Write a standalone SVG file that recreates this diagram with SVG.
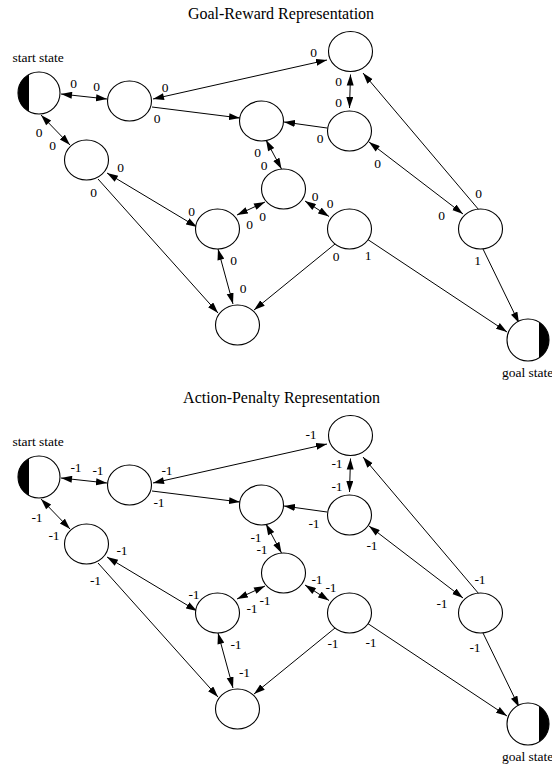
<svg xmlns="http://www.w3.org/2000/svg" width="552" height="767" viewBox="0 0 552 767">
  <style>
    .title { font-family: "Liberation Serif", "Times New Roman", serif; font-size: 16px; fill: #000; text-anchor: middle; }
    .cap { font-family: "Liberation Serif", "Times New Roman", serif; font-size: 13.5px; fill: #000; }
    .lbl { font-family: "Liberation Serif", "Times New Roman", serif; font-size: 13.5px; fill: #000; text-anchor: middle; }
    .st { fill: #fff; stroke: #000; stroke-width: 1.1; }
    .half { fill: #000; stroke: none; }
    .e { stroke: #000; stroke-width: 1; fill: none; }
    .one { marker-end: url(#ah); }
    .two { marker-start: url(#ahs); marker-end: url(#ah); }
  </style>
  <defs>
    <marker id="ah" markerUnits="userSpaceOnUse" markerWidth="12" markerHeight="8" refX="11" refY="3.5" orient="auto">
      <path d="M0,0 L11,3.5 L0,7 Z" fill="#000"/>
    </marker>
    <marker id="ahs" markerUnits="userSpaceOnUse" markerWidth="12" markerHeight="8" refX="0" refY="3.5" orient="auto">
      <path d="M11,0 L0,3.5 L11,7 Z" fill="#000"/>
    </marker>
  </defs>

  <!-- Upper graph: goal-reward values -->
  <g id="goal-reward">
    <text class="title" x="281" y="19">Goal-Reward Representation</text>
    <text class="cap" x="12.5" y="62">start state</text>
    <text class="cap" x="502" y="377">goal state</text>

    <g id="gr-edges">
      <line class="e two" x1="61" y1="94" x2="107" y2="99"/>
      <line class="e two" x1="41" y1="115" x2="70" y2="145"/>
      <line class="e two" x1="153" y1="99" x2="327" y2="60"/>
      <line class="e one" x1="152" y1="107" x2="240" y2="118"/>
      <line class="e one" x1="327" y1="128" x2="284" y2="122"/>
      <line class="e two" x1="350.5" y1="74.5" x2="349.5" y2="108"/>
      <line class="e one" x1="479" y1="210" x2="363" y2="73"/>
      <line class="e two" x1="369" y1="142" x2="463" y2="214"/>
      <line class="e two" x1="266" y1="140" x2="281.5" y2="169"/>
      <line class="e two" x1="265" y1="202" x2="237" y2="215"/>
      <line class="e two" x1="305" y1="201" x2="329" y2="216.5"/>
      <line class="e two" x1="107" y1="173" x2="197" y2="227"/>
      <line class="e one" x1="98" y1="179" x2="218" y2="313"/>
      <line class="e two" x1="218" y1="249" x2="233" y2="304"/>
      <line class="e one" x1="335" y1="244" x2="254" y2="310"/>
      <line class="e one" x1="367" y1="239" x2="507" y2="332"/>
      <line class="e one" x1="483" y1="249" x2="519" y2="323"/>
    </g>

    <g id="gr-labels">
      <text class="lbl" x="73.5" y="88">0</text>
      <text class="lbl" x="96.5" y="91">0</text>
      <text class="lbl" x="165" y="92">0</text>
      <text class="lbl" x="313.5" y="57">0</text>
      <text class="lbl" x="157" y="123">0</text>
      <text class="lbl" x="39" y="137">0</text>
      <text class="lbl" x="52.5" y="150">0</text>
      <text class="lbl" x="338.5" y="86">0</text>
      <text class="lbl" x="338.5" y="107">0</text>
      <text class="lbl" x="320" y="143">0</text>
      <text class="lbl" x="478.5" y="198">0</text>
      <text class="lbl" x="377.5" y="168">0</text>
      <text class="lbl" x="441.5" y="220">0</text>
      <text class="lbl" x="257.5" y="157">0</text>
      <text class="lbl" x="264" y="170">0</text>
      <text class="lbl" x="262.5" y="221">0</text>
      <text class="lbl" x="249.5" y="229">0</text>
      <text class="lbl" x="315" y="201">0</text>
      <text class="lbl" x="330" y="208">0</text>
      <text class="lbl" x="120.5" y="172">0</text>
      <text class="lbl" x="191.5" y="216">0</text>
      <text class="lbl" x="93.5" y="197">0</text>
      <text class="lbl" x="233.5" y="265">0</text>
      <text class="lbl" x="243" y="293">0</text>
      <text class="lbl" x="336" y="261">0</text>
      <text class="lbl" x="368" y="260">1</text>
      <text class="lbl" x="477.5" y="265">1</text>
    </g>

    <g id="gr-start"><circle class="st" cx="39" cy="93" r="21"/><path class="half" d="M29,74.53 A21,21 0 0,0 29,111.47 Z"/></g>
    <g id="gr-a"><ellipse class="st" cx="129.5" cy="101" rx="22" ry="20"/></g>
    <g id="gr-b"><ellipse class="st" cx="350.5" cy="51.5" rx="22" ry="20"/></g>
    <g id="gr-c"><ellipse class="st" cx="349.5" cy="131" rx="22" ry="20"/></g>
    <g id="gr-d"><ellipse class="st" cx="261.5" cy="121" rx="22" ry="20"/></g>
    <g id="gr-e"><ellipse class="st" cx="283.5" cy="189" rx="22" ry="20"/></g>
    <g id="gr-f"><ellipse class="st" cx="217.5" cy="229" rx="22" ry="20"/></g>
    <g id="gr-g"><ellipse class="st" cx="349.5" cy="229" rx="22" ry="20"/></g>
    <g id="gr-h"><ellipse class="st" cx="86.5" cy="160" rx="22" ry="20"/></g>
    <g id="gr-i"><ellipse class="st" cx="237.5" cy="325" rx="22" ry="20"/></g>
    <g id="gr-j"><ellipse class="st" cx="480.5" cy="229" rx="22" ry="20"/></g>
    <g id="gr-goal"><circle class="st" cx="528" cy="340" r="21"/><path class="half" d="M539,322.11 A21,21 0 0,1 539,357.89 Z"/></g>
  </g>

  <!-- Lower graph: action-penalty values, same layout shifted down -->
  <g id="action-penalty">
    <text class="title" x="281.5" y="403">Action-Penalty Representation</text>
    <text class="cap" x="12.5" y="446">start state</text>
    <text class="cap" x="502" y="761">goal state</text>

    <g id="ap-edges" transform="translate(0,384)">
      <line class="e two" x1="61" y1="94" x2="107" y2="99"/>
      <line class="e two" x1="41" y1="115" x2="70" y2="145"/>
      <line class="e two" x1="153" y1="99" x2="327" y2="60"/>
      <line class="e one" x1="152" y1="107" x2="240" y2="118"/>
      <line class="e one" x1="327" y1="128" x2="284" y2="122"/>
      <line class="e two" x1="350.5" y1="74.5" x2="349.5" y2="108"/>
      <line class="e one" x1="479" y1="210" x2="363" y2="73"/>
      <line class="e two" x1="369" y1="142" x2="463" y2="214"/>
      <line class="e two" x1="266" y1="140" x2="281.5" y2="169"/>
      <line class="e two" x1="265" y1="202" x2="237" y2="215"/>
      <line class="e two" x1="305" y1="201" x2="329" y2="216.5"/>
      <line class="e two" x1="107" y1="173" x2="197" y2="227"/>
      <line class="e one" x1="98" y1="179" x2="218" y2="313"/>
      <line class="e two" x1="218" y1="249" x2="233" y2="304"/>
      <line class="e one" x1="335" y1="244" x2="254" y2="310"/>
      <line class="e one" x1="367" y1="239" x2="507" y2="332"/>
      <line class="e one" x1="483" y1="249" x2="519" y2="323"/>
    </g>

    <g id="ap-labels">
      <text class="lbl" x="76" y="472">-1</text>
      <text class="lbl" x="98" y="475">-1</text>
      <text class="lbl" x="167" y="475">-1</text>
      <text class="lbl" x="311" y="439">-1</text>
      <text class="lbl" x="159" y="507">-1</text>
      <text class="lbl" x="37" y="522">-1</text>
      <text class="lbl" x="54" y="540">-1</text>
      <text class="lbl" x="337" y="468">-1</text>
      <text class="lbl" x="337" y="491">-1</text>
      <text class="lbl" x="314" y="528">-1</text>
      <text class="lbl" x="480" y="584">-1</text>
      <text class="lbl" x="372" y="550">-1</text>
      <text class="lbl" x="442" y="608">-1</text>
      <text class="lbl" x="256" y="542">-1</text>
      <text class="lbl" x="262" y="554">-1</text>
      <text class="lbl" x="265" y="605">-1</text>
      <text class="lbl" x="252" y="613">-1</text>
      <text class="lbl" x="317" y="584">-1</text>
      <text class="lbl" x="331" y="592">-1</text>
      <text class="lbl" x="122" y="555">-1</text>
      <text class="lbl" x="194" y="599">-1</text>
      <text class="lbl" x="95.5" y="585">-1</text>
      <text class="lbl" x="236" y="649">-1</text>
      <text class="lbl" x="244.5" y="677">-1</text>
      <text class="lbl" x="333" y="648">-1</text>
      <text class="lbl" x="371" y="647">-1</text>
      <text class="lbl" x="475" y="652">-1</text>
    </g>

    <g id="ap-start"><circle class="st" cx="39" cy="477" r="21"/><path class="half" d="M29,458.53 A21,21 0 0,0 29,495.47 Z"/></g>
    <g id="ap-a"><ellipse class="st" cx="129.5" cy="485" rx="22" ry="20"/></g>
    <g id="ap-b"><ellipse class="st" cx="350.5" cy="435.5" rx="22" ry="20"/></g>
    <g id="ap-c"><ellipse class="st" cx="349.5" cy="515" rx="22" ry="20"/></g>
    <g id="ap-d"><ellipse class="st" cx="261.5" cy="505" rx="22" ry="20"/></g>
    <g id="ap-e"><ellipse class="st" cx="283.5" cy="573" rx="22" ry="20"/></g>
    <g id="ap-f"><ellipse class="st" cx="217.5" cy="613" rx="22" ry="20"/></g>
    <g id="ap-g"><ellipse class="st" cx="349.5" cy="613" rx="22" ry="20"/></g>
    <g id="ap-h"><ellipse class="st" cx="86.5" cy="544" rx="22" ry="20"/></g>
    <g id="ap-i"><ellipse class="st" cx="237.5" cy="709" rx="22" ry="20"/></g>
    <g id="ap-j"><ellipse class="st" cx="480.5" cy="613" rx="22" ry="20"/></g>
    <g id="ap-goal"><circle class="st" cx="528" cy="724" r="21"/><path class="half" d="M539,706.11 A21,21 0 0,1 539,741.89 Z"/></g>
  </g>
</svg>
